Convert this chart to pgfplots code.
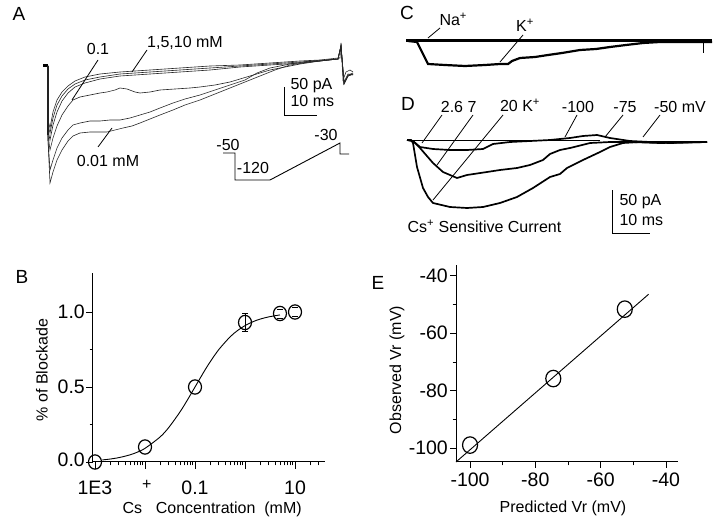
\documentclass[border=0pt]{standalone}
\usepackage{pgfplots}
\pgfplotsset{compat=1.18}
\usepackage{fontspec}
\setmainfont{Liberation Sans}
\newcommand{\fs}{\fontsize{16}{19}\selectfont}
\newcommand{\ft}{\fontsize{19.5}{23}\selectfont}
\newcommand{\fl}{\fontsize{19}{22}\selectfont}
\begin{document}
\begin{tikzpicture}[font=\fs]
\path[use as bounding box] (0,0) rectangle (720pt,519pt);
% ---------- overlay axis in picture pixels (traces, labels) ----------
\begin{axis}[at={(0pt,0pt)}, anchor=south west, scale only axis,
  width=720pt, height=519pt, xmin=0, xmax=720, ymin=0, ymax=519,
  y dir=reverse, hide axis, clip=false]
% Panel A traces
\addplot[black, line width=3pt] coordinates {(43,66) (48,66)};
\addplot[black, line width=1.6pt] coordinates {(48,66) (48,135)};
\addplot[black!85, line width=0.6pt] coordinates {(48,66)(48,120)(50,128)(53,112)(57,100)(62,92)(68,86)(75,81)(85,77)(100,74)(120,72)(150,70)(180,68)(210,66)(240,65)(270,63)(300,61)(320,60)(338,58)(340,58)(341,43)(343,80)(346,72)(350,70)(353,72)};
\addplot[black!85, line width=0.6pt] coordinates {(48,66)(48,125)(50,133)(53,118)(57,105)(62,96)(68,89)(75,84)(85,80)(100,77)(120,74)(150,72)(180,70)(210,68)(240,66)(270,64)(300,62)(320,61)(338,59)(341,45)(344,82)(348,74)(353,75)};
\addplot[black!85, line width=0.6pt] coordinates {(48,66)(48,130)(50,140)(53,125)(57,112)(62,101)(68,93)(75,87)(85,83)(100,79)(120,76)(150,74)(180,72)(210,70)(240,67)(270,65)(300,63)(320,61)(338,59)(341,46)(344,84)(348,76)(353,74)};
\addplot[black!85, line width=0.6pt] coordinates {(48,66)(48,135)(50,150)(53,138)(57,126)(62,115)(68,106)(73,100)(80,97)(90,95)(100,93)(107,92)(115,90)(120,88)(127,89)(135,92)(140,93)(150,92)(160,90)(175,89)(190,88)(200,87)(215,85)(230,82)(250,76)(270,70)(300,64)(320,61)(338,59)(341,46)(344,83)(348,75)(353,73)};
\addplot[black!85, line width=0.6pt] coordinates {(48,66)(48,140)(50,170)(53,160)(57,148)(62,138)(68,130)(73,125)(80,123)(90,121)(100,121)(110,120)(120,120)(130,118)(140,115)(150,112)(160,108)(173,103)(185,99)(200,95)(215,90)(230,85)(245,80)(257,73)(270,68)(290,64)(310,61)(338,59)(341,46)(344,84)(348,76)(353,74)};
\addplot[black!85, line width=0.6pt] coordinates {(48,66)(48,140)(50,183)(53,172)(57,160)(62,150)(68,141)(73,136)(80,133)(90,132)(100,132)(107,132)(115,130)(123,128)(132,126)(140,123)(150,119)(160,115)(173,110)(185,105)(200,100)(215,94)(230,88)(245,82)(260,76)(275,70)(290,65)(310,62)(338,59)(341,46)(344,84)(348,76)(353,74)};
% A leaders, scale bar, protocol
\addplot[black, line width=0.8pt] coordinates {(98,60)(72,100)};
\addplot[black, line width=0.8pt] coordinates {(147,50)(132,72)};
\addplot[black, line width=0.8pt] coordinates {(98,147)(112,128)};
\addplot[black, line width=0.9pt] coordinates {(284,87)(284,115)(317,115)};
\addplot[black, line width=0.9pt] coordinates {(223,153)(235,153)(235,180)(270,180)(340,143)(340,154)(349,154)};
% Panel C traces
\addplot[black, line width=3pt] coordinates {(406,41)(712,41)};
\addplot[black, line width=2.2pt] coordinates {(408,41)(417,42)(428,64)(445,65)(465,66)(485,65)(500,64)(508,64)(512,61)(520,58)(535,57)(548,55)(562,53)(580,50)(596,49)(610,47)(626,45)(643,43)(660,42)(712,42)};
\addplot[black, line width=0.8pt] coordinates {(703,41)(703,53)};
\addplot[black, line width=0.8pt] coordinates {(440,28)(428,38)};
\addplot[black, line width=0.8pt] coordinates {(523,35)(500,62)};
% Panel D traces
\addplot[black, line width=0.8pt] coordinates {(410,140)(600,140)};
\addplot[black, line width=1.7pt] coordinates {(407,140)(413,141)(420,147)(433,149)(450,150)(467,150)(483,149)(493,144)(510,142)(530,141)(550,140)(570,138)(583,136)(597,135)(610,138)(630,141)(650,142)(680,142)(707,142)};
\addplot[black, line width=1.7pt] coordinates {(407,140)(413,141)(420,148)(433,163)(443,172)(457,178)(467,175)(487,172)(500,170)(517,168)(530,165)(543,160)(550,154)(560,150)(570,148)(590,143)(610,142)(630,142)(660,143)(707,142)};
\addplot[black, line width=1.7pt] coordinates {(407,140)(411,140)(413,143)(417,167)(423,188)(428,197)(433,203)(450,207)(467,208)(483,207)(500,203)(517,197)(533,188)(550,177)(560,174)(567,168)(583,160)(600,152)(610,147)(623,143)(640,142)(670,143)(707,142)};
\addplot[black, line width=0.8pt] coordinates {(442,115)(422,143)};
\addplot[black, line width=0.8pt] coordinates {(473,115)(437,165)};
\addplot[black, line width=0.8pt] coordinates {(503,115)(433,200)};
\addplot[black, line width=0.8pt] coordinates {(577,115)(565,137)};
\addplot[black, line width=0.8pt] coordinates {(623,115)(605,137)};
\addplot[black, line width=0.8pt] coordinates {(660,115)(643,137)};
\addplot[black, line width=0.9pt] coordinates {(612,190)(612,233)(650,233)};
% Text
\node[font=\fl] at (axis cs:19,14) {A};
\node at (axis cs:98,49) {0.1};
\node at (axis cs:185,43) {1,5,10 mM};
\node at (axis cs:108,161) {0.01 mM};
\node[anchor=west] at (axis cs:287,86) {50 pA};
\node[anchor=west] at (axis cs:287,101) {10 ms};
\node at (axis cs:228,145) {-50};
\node at (axis cs:253,168) {-120};
\node at (axis cs:326,135) {-30};
\node[font=\fl] at (axis cs:407,13) {C};
\node[anchor=west] at (axis cs:436,19) {Na\textsuperscript{+}};
\node at (axis cs:525,25) {K\textsuperscript{+}};
\node[font=\fl] at (axis cs:408,104) {D};
\node at (axis cs:452,107) {2.6};
\node at (axis cs:472,107) {7};
\node at (axis cs:520,105) {20 K\textsuperscript{+}};
\node at (axis cs:578,107) {-100};
\node at (axis cs:625,107) {-75};
\node at (axis cs:680,107) {-50 mV};
\node[anchor=west] at (axis cs:404,226) {Cs\textsuperscript{+} Sensitive Current};
\node[anchor=west] at (axis cs:616,202) {50 pA};
\node[anchor=west] at (axis cs:616,220) {10 ms};
\node[font=\fl] at (axis cs:22,277) {B};
\node[rotate=90] at (axis cs:42,370) {\% of Blockade};
\node[anchor=base west] at (axis cs:119,513) {Cs\raisebox{24pt}{+}\ Concentration\ \ (mM)};
\node[font=\fl] at (axis cs:378,283) {E};
\node[rotate=90] at (axis cs:397,370) {Observed Vr (mV)};
\node at (axis cs:563,508) {Predicted Vr (mV)};
\end{axis}
% ---------- Panel B ----------
\begin{axis}[at={(93pt,57pt)}, anchor=south west, scale only axis,
  width=232pt, height=189pt, xmode=log, xmin=0.000912, xmax=39.8,
  ymin=0, ymax=1.26, axis lines=left, axis line style={-, line width=1pt},
  tick align=outside, major tick length=7pt, minor tick length=3.5pt,
  tick style={black, line width=0.8pt},
  xtick={0.001,0.01,0.1,1,10}, xticklabels={1E3,,0.1,,10},
  minor xtick={0.002,0.003,0.004,0.005,0.006,0.007,0.008,0.009,0.02,0.03,0.04,0.05,0.06,0.07,0.08,0.09,0.2,0.3,0.4,0.5,0.6,0.7,0.8,0.9,2,3,4,5,6,7,8,9,20,30},
  ytick={0,0.5,1}, yticklabels={\raisebox{4pt}{0.0},0.5,1.0}, minor ytick={0.25,0.75},
  tick label style={font=\ft},
  xticklabel style={anchor=north, inner sep=0pt, yshift=-12pt},
  yticklabel style={anchor=east, inner sep=0pt, xshift=-1pt},
  clip=false]
\addplot[black, line width=0.9pt, smooth] coordinates {(0.0014,0.0138)(0.002,0.0196)(0.003,0.0291)(0.005,0.0476)(0.007,0.0654)(0.01,0.0909)(0.02,0.1667)(0.03,0.2308)(0.05,0.3333)(0.07,0.4118)(0.1,0.5)(0.15,0.6)(0.2,0.6667)(0.3,0.75)(0.5,0.8333)(0.7,0.875)(1,0.9091)(1.5,0.9375)(2,0.9524)(3,0.9677)(5,0.9804)};
\addplot[black, line width=0.8pt] coordinates {(1,0.87)(1,0.99)};
\addplot[only marks, mark=o, mark size=6.5pt, mark options={fill=white, line width=1.2pt, yscale=1.1}]
  coordinates {(0.001,0.0)(0.01,0.1)(0.1,0.5)(1,0.93)(5,0.99)(10,1.0)};
\addplot[only marks, mark=-, mark size=3pt, mark options={line width=0.8pt}]
  coordinates {(1,0.87)(1,0.99)(5,0.96)(5,1.02)(10,0.97)(10,1.03)};
\end{axis}
% ---------- Panel E ----------
\begin{axis}[at={(456pt,57pt)}, anchor=south west, scale only axis,
  width=222pt, height=197pt, xmin=-104.3, xmax=-36.3, ymin=-104.9, ymax=-36.2,
  axis lines=left, axis line style={-, line width=1pt},
  tick align=outside, major tick length=6pt, minor tick length=3.5pt,
  tick style={black, line width=0.8pt},
  xtick={-100,-80,-60,-40}, xticklabels={-100,-80,-60,-40}, minor xtick={-90,-70,-50},
  ytick={-100,-80,-60,-40}, yticklabels={-100,-80,-60,-40}, minor ytick={-90,-70,-50},
  tick label style={font=\ft},
  xticklabel style={anchor=north, inner sep=0pt, yshift=-5pt},
  yticklabel style={anchor=east, inner sep=0pt, xshift=-2pt},
  clip=false]
\addplot[black, line width=0.9pt] coordinates {(-104.3,-104.9)(-45.3,-46.4)};
\addplot[only marks, mark=o, mark size=7.5pt, mark options={fill=white, line width=1.2pt, yscale=1.1}]
  coordinates {(-100,-99)(-74.5,-75.8)(-52.6,-51.6)};
\end{axis}
\end{tikzpicture}
\end{document}
